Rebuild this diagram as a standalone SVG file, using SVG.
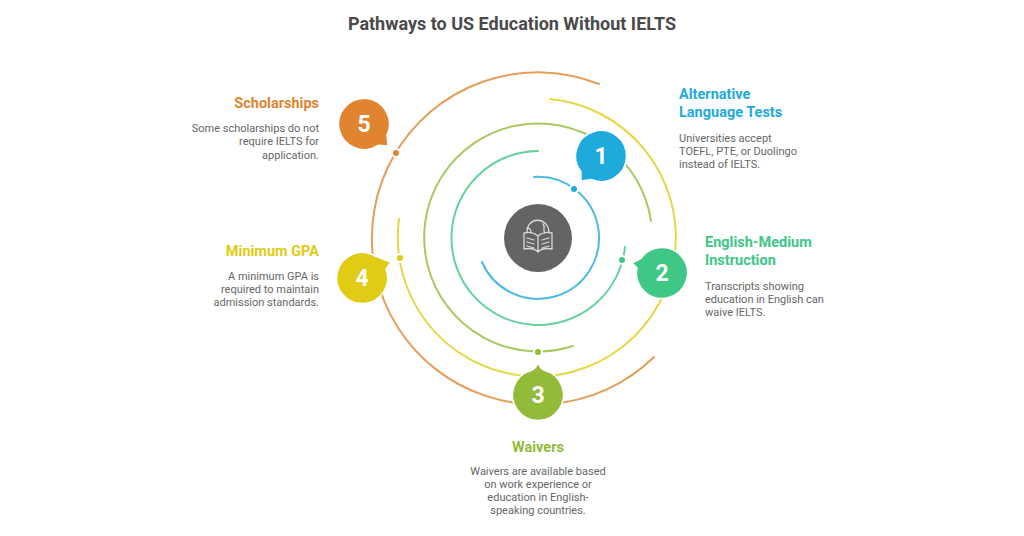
<svg xmlns="http://www.w3.org/2000/svg" width="1024" height="536" viewBox="0 0 1024 536">
<style>
text{font-family:Roboto,"Liberation Sans",sans-serif}
.t{font-size:14.500px;font-weight:700}
.d{font-size:11px;fill:#666}
.n{font-size:23px;font-weight:700;fill:#fff;text-anchor:middle}
.a{fill:none;stroke-width:2;stroke-linecap:round;opacity:.8}
.b{stroke:#fff;stroke-width:1.5}
.dot{stroke:#fff;stroke-width:2}
.i{fill:none;stroke:#d8d8d8;stroke-width:1.3;stroke-linejoin:round;stroke-linecap:round}
.e{text-anchor:end}
.m{text-anchor:middle}
</style>
<rect width="1024" height="536" fill="#fff"/>
<text x="512" y="30" class="m" font-size="18" font-weight="700" fill="#4a4a4a">Pathways to US Education Without IELTS</text>
<g id="connectors">
<path class="a" stroke="#1eaadb" d="M534 177A61 61 0 1 1 482 262"/>
<path class="a" stroke="#3ec785" d="M538 151A87 87 0 1 0 625 247"/>
<path class="a" stroke="#92bb38" d="M651 221A114 114 0 1 0 573 346"/>
<path class="a" stroke="#e0cc14" d="M550 99A139 139 0 1 1 399 219"/>
<path class="a" stroke="#e08430" d="M599 84A166 166 0 1 0 654 357"/>
</g>
<g id="center"><circle cx="538" cy="238" r="34" fill="#646464"/>
<path class="i" d="M527 233C526 216 549 216 549 233M531 233C531 229 530 228 527 228M545 233C542 229 546 227 543 224M538 236C533 232 528 232 524 233V249C529 248 534 248 538 252C542 248 547 248 552 249V233C548 232 543 232 538 236V252M527 238L534 240M527 242L534 244M527 246L534 248M549 238L542 240M549 242L542 244M549 246L542 248"/></g>
<g id="node1"><path class="b" fill="#1eaadb" d="M581 181L581 171.800A25.500 25.500 0 1 1 591 179.460Z"/><text x="601" y="164" class="n">1</text><circle class="dot" cx="574" cy="189" r="4" fill="#1eaadb"/>
<text x="679" y="99" class="t" fill="#1eaadb">Alternative</text><text x="679" y="117" class="t" fill="#1eaadb">Language Tests</text>
<text x="679" y="142" class="d">Universities accept</text><text x="679" y="155" class="d">TOEFL, PTE, or Duolingo</text><text x="679" y="168" class="d">instead of IELTS.</text></g>
<g id="node2"><path class="b" fill="#3ec785" d="M632 263L641 258.500A25.500 25.500 0 1 1 637 268Z"/><text x="662" y="281" class="n">2</text><circle class="dot" cx="622" cy="260" r="4" fill="#3ec785"/>
<text x="705" y="247" class="t" fill="#3ec785">English-Medium</text><text x="705" y="265" class="t" fill="#3ec785">Instruction</text>
<text x="705" y="290" class="d">Transcripts showing</text><text x="705" y="303" class="d">education in English can</text><text x="705" y="316" class="d">waive IELTS.</text></g>
<g id="node3"><path class="b" fill="#92bb38" d="M538 362C539 366 541 369 545 370.500A25.500 25.500 0 1 1 531 370.500C535 369 537 366 538 362Z"/><text x="538" y="403" class="n">3</text><circle class="dot" cx="538" cy="352" r="4" fill="#92bb38"/>
<text x="538" y="452" class="t m" fill="#92bb38">Waivers</text>
<text x="538" y="475" class="d m">Waivers are available based</text><text x="538" y="488" class="d m">on work experience or</text><text x="538" y="501" class="d m">education in English-</text><text x="538" y="514" class="d m">speaking countries.</text></g>
<g id="node4"><path class="b" fill="#e0cc14" d="M391 262L386 269A25.500 25.500 0 1 1 375 256Z"/><text x="362" y="286" class="n">4</text><circle class="dot" cx="400" cy="258" r="4" fill="#e0cc14"/>
<text x="319" y="256" class="t e" fill="#e0cc14">Minimum GPA</text>
<text x="319" y="280" class="d e">A minimum GPA is</text><text x="319" y="293" class="d e">required to maintain</text><text x="319" y="306" class="d e">admission standards.</text></g>
<g id="node5"><path class="b" fill="#e08430" d="M388 146L378 145.300A25.500 25.500 0 1 1 387 135Z"/><text x="364" y="132" class="n">5</text><circle class="dot" cx="396" cy="153" r="4" fill="#e08430"/>
<text x="319" y="108" class="t e" fill="#e08430">Scholarships</text>
<text x="319" y="132" class="d e">Some scholarships do not</text><text x="319" y="145" class="d e">require IELTS for</text><text x="319" y="159" class="d e">application.</text></g>
</svg>
